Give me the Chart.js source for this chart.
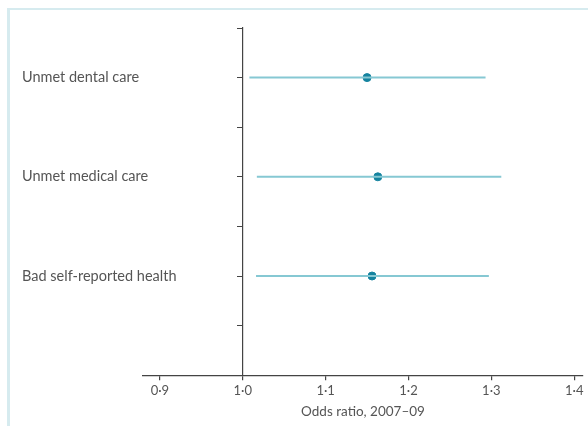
<!DOCTYPE html>
<html>
<head>
<meta charset="utf-8">
<script src="https://cdn.jsdelivr.net/npm/chart.js@4/dist/chart.umd.min.js"></script>
<style>
  html, body { margin: 0; padding: 0; background: #fff; }
  #frame { position: absolute; left: 7px; top: 8px; width: 588px; height: 430px;
           border-top: 2px solid #d6ebef; border-left: 3px solid #d6ebef; }
  #wrap { position: absolute; left: 0; top: 0; width: 588px; height: 426px; }
</style>
</head>
<body>
<div id="frame"></div>
<div id="wrap"><canvas id="forest-chart"></canvas></div>
<script>
// outcomes, top to bottom
var categories = ["Unmet dental care", "Unmet medical care", "Bad self-reported health"];
// odds ratios and 95% CI, 2007-09
var oddsRatio = [1.150, 1.163, 1.156];
var lowerCI = [1.008, 1.017, 1.016];
var upperCI = [1.293, 1.312, 1.297];
var xTicks = [0.9, 1.0, 1.1, 1.2, 1.3, 1.4];

var rowY = function (i) { return 2 * i + 1; };

var datasets = [];
categories.forEach(function (c, i) {
    datasets.push({
        type: "line",
        label: c,
        data: [{ x: lowerCI[i], y: rowY(i) }, { x: upperCI[i], y: rowY(i) }],
        borderColor: "#86c8d3",
        borderWidth: 2,
        pointRadius: 0,
        fill: false
    });
});
datasets.push({
    type: "scatter",
    label: "Odds ratio",
    data: oddsRatio.map(function (v, i) { return { x: v, y: rowY(i) }; }),
    backgroundColor: "#15839f",
    borderColor: "#15839f",
    pointRadius: 4
});

new Chart(document.getElementById("forest-chart"), {
    type: "scatter",
    data: { datasets: datasets },
    options: {
        responsive: true,
        maintainAspectRatio: false,
        animation: false,
        layout: { padding: { left: 22, right: 3, top: 28, bottom: 6 } },
        plugins: { legend: { display: false }, tooltip: { enabled: false } },
        scales: {
            x: {
                type: "linear",
                min: 0.8796,
                max: 1.4106,
                afterBuildTicks: function (scale) {
                    scale.ticks = xTicks.map(function (v) { return { value: v }; });
                },
                ticks: {
                    color: "#555",
                    font: { family: "Lato", size: 13 },
                    padding: 3,
                    callback: function (v) { return v.toFixed(1).replace(".", "·"); }
                },
                grid: { drawOnChartArea: false, color: "#444", tickLength: 5, lineWidth: 1.2 },
                border: { display: true, color: "#444", width: 1.2 },
                title: {
                    display: true,
                    text: "Odds ratio, 2007–09",
                    color: "#555",
                    font: { family: "Lato", size: 13.5 },
                    padding: { top: 2, bottom: 0 }
                }
            },
            y: {
                type: "linear",
                position: { x: 1.0 },
                min: 0,
                max: 7,
                reverse: true,
                ticks: { display: false, stepSize: 1 },
                afterBuildTicks: function (scale) {
                    scale.ticks = [0, 1, 2, 3, 4, 5, 6].map(function (v) { return { value: v }; });
                },
                grid: { drawOnChartArea: false, color: "#444", tickLength: 5, lineWidth: 1 },
                border: { display: true, color: "#444", width: 1.2 }
            },
            cat: {
                type: "linear",
                axis: "y",
                position: "left",
                min: 0,
                max: 7,
                reverse: true,
                afterBuildTicks: function (scale) {
                    scale.ticks = categories.map(function (c, i) { return { value: rowY(i) }; });
                },
                afterFit: function (scale) { scale.width = 121; },
                ticks: {
                    mirror: true,
                    crossAlign: "near",
                    padding: -121,
                    color: "#555",
                    font: { family: "Lato", size: 14.5 },
                    callback: function (v) { return categories[(v - 1) / 2]; }
                },
                grid: { display: false },
                border: { display: false }
            }
        }
    }
});
</script>
</body>
</html>
